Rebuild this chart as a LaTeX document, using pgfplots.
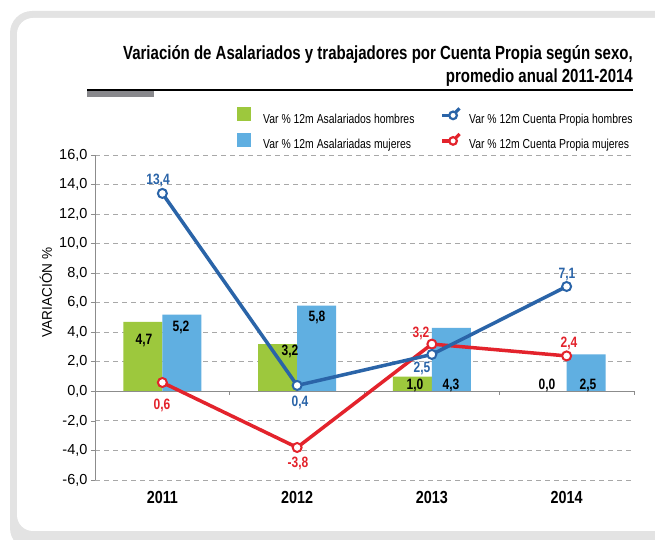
\documentclass[border=0pt]{standalone}
\usepackage{pgfplots}
\pgfplotsset{compat=1.18}
\usepackage{fontspec}
\setmainfont{Liberation Sans}
\newfontfamily\condfont{Liberation Sans}[FakeStretch=0.8]
\newfontfamily\legfont{Liberation Sans}[FakeStretch=0.8]
\newfontfamily\titlefont{Liberation Sans}[FakeStretch=0.79]
\newfontfamily\yearfont{Liberation Sans}[FakeStretch=0.82]
\newfontfamily\ylfont{Liberation Sans}[FakeStretch=0.97]
\definecolor{framegray}{HTML}{E3E3E3}
\definecolor{mygreen}{HTML}{9DC83D}
\definecolor{mylblue}{HTML}{60AFE1}
\definecolor{lineblue}{HTML}{2A64A8}
\definecolor{linered}{HTML}{E3232C}
\definecolor{axisgray}{HTML}{8C8C8C}
\definecolor{gridgray}{HTML}{A8A8A8}
\definecolor{bargray}{HTML}{88888C}
\begin{document}
\begin{tikzpicture}[x=1pt,y=1pt]
\useasboundingbox (0,0) rectangle (655,540);
\begin{scope}
\clip (0,0) rectangle (655,540);
\fill[framegray, rounded corners=22pt] (10,-10) rectangle (720,529);
\fill[white, rounded corners=16pt] (17,9) rectangle (710,522);
\end{scope}
% title
\node[anchor=base east, inner sep=0pt, font=\titlefont\bfseries\fontsize{19}{23}\selectfont] at (633,480) {Variación de Asalariados y trabajadores por Cuenta Propia según sexo,};
\node[anchor=base east, inner sep=0pt, font=\titlefont\bfseries\fontsize{19}{23}\selectfont] at (633,457) {promedio anual 2011-2014};
\draw[black, line width=1.3pt] (87,450) -- (633,450);
\fill[bargray] (87,443) rectangle (154,449);
\begin{axis}[
  at={(95pt,60pt)}, anchor=south west,
  scale only axis, width=539pt, height=325pt,
  xmin=-0.5, xmax=3.5, ymin=-6, ymax=16,
  clip=false,
  axis lines*=left,
  x axis line style={draw=none},
  y axis line style={draw=axisgray, line width=1pt},
  xtick={0,1,2,3}, xticklabels={2011,2012,2013,2014},
  xtick style={draw=none},
  xticklabel style={font=\yearfont\bfseries\fontsize{17.5}{17.5}\selectfont, yshift=-4pt},
  ytick={-6,-4,-2,0,2,4,6,8,10,12,14,16},
  ytick style={draw=axisgray, line width=0.8pt},
  tick align=outside, major tick length=4pt,
  yticklabel style={font=\fontsize{14.5}{14.5}\selectfont, /pgf/number format/fixed, /pgf/number format/fixed zerofill, /pgf/number format/precision=1, /pgf/number format/use comma},
  /pgf/number format/assume math mode=true,
  ymajorgrids,
  grid style={gridgray, line width=0.9pt, dash pattern=on 5pt off 4pt},
  ylabel={VARIACIÓN \%},
  ylabel style={at={(axis description cs:-0.091,0.577)}, anchor=center, font=\ylfont\fontsize{14}{14}\selectfont},
  legend columns=2,
  legend cell align=left,
  legend style={at={(axis description cs:0.2635,1.149)}, anchor=north west, draw=none, fill=none, inner sep=0pt,
    nodes={inner sep=0pt},
    font=\legfont\fontsize{13}{13}\selectfont, row sep=7.5pt,
    /tikz/every odd column/.append style={column sep=8pt},
    /tikz/every even column/.append style={column sep=26pt}},
]
\addlegendimage{legend image code/.code={\path[draw=none,fill=none] (0pt,-3pt) rectangle (18pt,12pt); \fill[mygreen, draw=none] (0pt,-2pt) rectangle (14pt,12pt);}}
\addlegendimage{legend image code/.code={\path[draw=none,fill=none] (0pt,-3pt) rectangle (18pt,12pt); \draw[lineblue, line width=3.2pt] (0pt,4pt) -- (7pt,4pt); \draw[lineblue, line width=2.2pt, fill=white] (11pt,4pt) circle (3.8pt); \draw[lineblue, line width=3.2pt] (13.5pt,7pt) -- (17.5pt,11pt);}}
\addlegendimage{legend image code/.code={\path[draw=none,fill=none] (0pt,-3pt) rectangle (18pt,12pt); \fill[mylblue, draw=none] (0pt,-2pt) rectangle (14pt,12pt);}}
\addlegendimage{legend image code/.code={\path[draw=none,fill=none] (0pt,-3pt) rectangle (18pt,12pt); \draw[linered, line width=3.2pt] (0pt,4pt) -- (7pt,4pt); \draw[linered, line width=2.2pt, fill=white] (11pt,4pt) circle (3.8pt); \draw[linered, line width=3.2pt] (13.5pt,7pt) -- (17.5pt,11pt);}}
\legend{Var \% 12m Asalariados hombres, Var \% 12m Cuenta Propia hombres, Var \% 12m Asalariadas mujeres, Var \% 12m Cuenta Propia mujeres}
% bars
\addplot[ybar, bar width=0.29, bar shift=-0.145, fill=mygreen, draw=none] coordinates {(0,4.7) (1,3.2) (2,1.0) (3,0.0)};
\addplot[ybar, bar width=0.29, bar shift=0.145, fill=mylblue, draw=none] coordinates {(0,5.2) (1,5.8) (2,4.3) (3,2.5)};
% zero line
\draw[axisgray, line width=1pt] (axis cs:-0.5,0) -- (axis cs:3.5,0);
\draw[axisgray, line width=0.8pt] (axis cs:0.5,0) -- ++(0pt,-4pt);
\draw[axisgray, line width=0.8pt] (axis cs:1.5,0) -- ++(0pt,-4pt);
\draw[axisgray, line width=0.8pt] (axis cs:2.5,0) -- ++(0pt,-4pt);
\draw[axisgray, line width=0.8pt] (axis cs:3.5,0) -- ++(0pt,-4pt);
% lines
\addplot[linered, line width=3.5pt, mark=*, mark options={fill=white, draw=linered, line width=2pt}, mark size=4.5pt] coordinates {(0,0.6) (1,-3.8) (2,3.2) (3,2.4)};
\addplot[lineblue, line width=3.5pt, mark=*, mark options={fill=white, draw=lineblue, line width=2pt}, mark size=4.5pt] coordinates {(0,13.4) (1,0.4) (2,2.5) (3,7.1)};
% labels
\tikzset{lab/.style={font=\condfont\bfseries\fontsize{15}{15}\selectfont, inner sep=0pt}}
\node[lab] at (axis cs:-0.136,3.47) {4,7};
\node[lab] at (axis cs:0.138,4.35) {5,2};
\node[lab] at (axis cs:0.947,2.67) {3,2};
\node[lab] at (axis cs:1.147,5.03) {5,8};
\node[lab] at (axis cs:1.875,0.43) {1,0};
\node[lab] at (axis cs:2.142,0.43) {4,3};
\node[lab] at (axis cs:2.854,0.43) {0,0};
\node[lab] at (axis cs:3.159,0.43) {2,5};
\node[lab, lineblue] at (axis cs:-0.032,14.31) {13,4};
\node[lab, lineblue] at (axis cs:1.021,-0.72) {0,4};
\node[lab, lineblue] at (axis cs:1.927,1.58) {2,5};
\node[lab, lineblue] at (axis cs:3.003,7.93) {7,1};
\node[lab, linered] at (axis cs:-0.003,-0.93) {0,6};
\node[lab, linered] at (axis cs:1.006,-4.86) {-3,8};
\node[lab, linered] at (axis cs:1.919,3.95) {3,2};
\node[lab, linered] at (axis cs:3.018,3.27) {2,4};
\end{axis}
\end{tikzpicture}
\end{document}
